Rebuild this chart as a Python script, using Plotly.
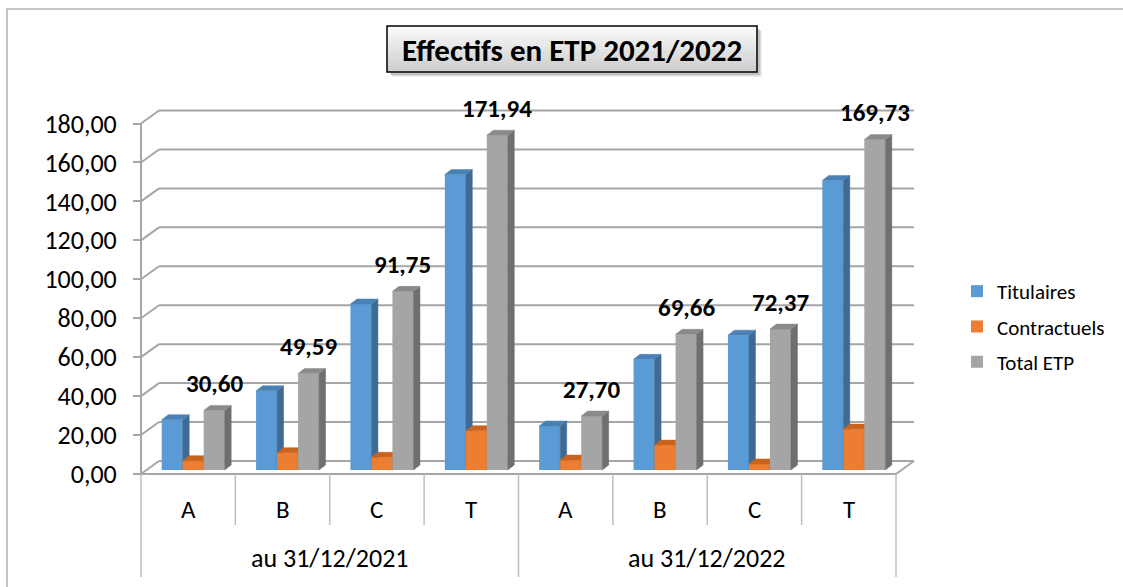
import plotly.graph_objects as go

# ---- data -------------------------------------------------------------
groups = ["au 31/12/2021", "au 31/12/2022"]
categories = ["A", "B", "C", "T"]
series_names = ["Titulaires", "Contractuels", "Total ETP"]
titulaires = [25.80, 40.69, 85.25, 151.74, 22.60, 56.86, 69.27, 148.73]
contractuels = [4.80, 8.90, 6.50, 20.20, 5.10, 12.80, 3.10, 21.00]
total_etp = [30.60, 49.59, 91.75, 171.94, 27.70, 69.66, 72.37, 169.73]
y_ticks = [0, 20, 40, 60, 80, 100, 120, 140, 160, 180]
title_text = "Effectifs en ETP 2021/2022"

# ---- styling ----------------------------------------------------------
FONT = "Carlito, Lato, sans-serif"
front_colors = ["#5B9BD5", "#ED7D31", "#A5A5A5"]
side_colors = ["#3E6A93", "#B45D21", "#6F6F6F"]
top_colors = ["#4A81B5", "#C9641F", "#8A8A8A"]
GRID = "#A6A6A6"
TABLE = "#BFBFBF"

# ---- canvas geometry (plot area covers the whole page) -----------------
W, H = 1123, 587
PX_PER_CAT = 94.375        # width of one category slot
PX_PER_UNIT = 1.947        # vertical pixels per value unit
LEFT_PX = 141              # left edge of the first category slot
BASE_PX = 470              # pixel row of value 0 for the bars


def ux(px):
    return px / PX_PER_CAT


def uy(px):
    return px / PX_PER_UNIT


def px_x(px):
    return px / W


def px_y(py):
    return 1 - py / H


x_range = [-0.5 - ux(LEFT_PX), -0.5 + ux(W - LEFT_PX)]
y_range = [-uy(H - BASE_PX), uy(BASE_PX)]

FRONT = -uy(4)        # front edge of the floor
BACK = uy(9)          # back wall offset
DEPTH_X = ux(18)      # horizontal depth shift of the walls
BAR_W = ux(21)
BAR_SHIFT = ux(5)
FACE_DX = ux(6.5)
FACE_DY = uy(5)

n_cat = len(groups) * len(categories)
centers = list(range(n_cat))
values = [titulaires, contractuels, total_etp]

fig = go.Figure()

# ---- 3D-looking columns: front face (bar) + side and top faces ----------
for k, (name, vals) in enumerate(zip(series_names, values)):
    offset = (k - 1) * BAR_W + BAR_SHIFT
    xs = [c + offset for c in centers]
    fig.add_trace(go.Bar(
        x=xs, y=vals, width=BAR_W, name=name,
        marker=dict(color=front_colors[k], line=dict(width=0)),
        legendgroup=name, zorder=2 * k, hoverinfo="skip",
    ))
    side_x, side_y, top_x, top_y = [], [], [], []
    for x, v in zip(xs, vals):
        xl, xr = x - BAR_W / 2, x + BAR_W / 2
        side_x += [xr, xr + FACE_DX, xr + FACE_DX, xr, xr, None]
        side_y += [0, FACE_DY, v + FACE_DY, v, 0, None]
        top_x += [xl, xr, xr + FACE_DX, xl + FACE_DX, xl, None]
        top_y += [v, v, v + FACE_DY, v + FACE_DY, v, None]
    for fx, fy, col in ((side_x, side_y, side_colors[k]), (top_x, top_y, top_colors[k])):
        fig.add_trace(go.Scatter(
            x=fx, y=fy, mode="lines", fill="toself", fillcolor=col,
            line=dict(width=0.5, color=col), showlegend=False,
            hoverinfo="skip", zorder=2 * k + 1,
        ))

# invisible trace that carries the value axis on the front edge
fig.add_trace(go.Scatter(x=[None], y=[None], yaxis="y2", showlegend=False,
                         hoverinfo="skip"))

shapes = []

# ---- walls, floor and gridlines ----------------------------------------
left_front = -0.5
right_front = n_cat - 0.5
for v in y_ticks:
    shapes.append(dict(type="line", x0=left_front, y0=v + FRONT,
                       x1=left_front + DEPTH_X, y1=v + BACK,
                       line=dict(color=GRID, width=2), layer="below"))
    shapes.append(dict(type="line", x0=left_front + DEPTH_X, y0=v + BACK,
                       x1=right_front + DEPTH_X, y1=v + BACK,
                       line=dict(color=GRID, width=2), layer="below"))
shapes.append(dict(type="line", x0=left_front, y0=FRONT, x1=right_front, y1=FRONT,
                   line=dict(color=GRID, width=2), layer="below"))
shapes.append(dict(type="line", x0=right_front, y0=FRONT,
                   x1=right_front + DEPTH_X, y1=BACK,
                   line=dict(color=GRID, width=2), layer="below"))
shapes.append(dict(type="line", x0=left_front, y0=y_ticks[-1] + FRONT,
                   x1=left_front, y1=FRONT,
                   line=dict(color=GRID, width=2), layer="below"))

# ---- category table under the floor -------------------------------------
cat_bottom = -uy(525 - BASE_PX)
group_bottom = -uy(577 - BASE_PX)
per_group = len(categories)
for i in range(n_cat + 1):
    edge = i - 0.5
    is_group_edge = i % per_group == 0
    shapes.append(dict(type="line", x0=edge, x1=edge, y0=FRONT,
                       y1=group_bottom if is_group_edge else cat_bottom,
                       line=dict(color=TABLE, width=1.5), layer="below"))

# ---- outer chart border ---------------------------------------------------
shapes.append(dict(type="rect", xref="paper", yref="paper",
                   x0=px_x(7), x1=px_x(W + 10), y0=px_y(H + 10), y1=px_y(9),
                   line=dict(color="#B3B3B3", width=1.5), layer="below"))

# ---- title box: soft shadow, vertical gradient, black frame -------------
bx0, bx1, by0, by1 = 387, 757, 26, 72
for off, op in ((5, 0.12), (4, 0.18), (3, 0.25)):
    shapes.append(dict(type="rect", xref="paper", yref="paper",
                       x0=px_x(bx0 + off), x1=px_x(bx1 + off),
                       y0=px_y(by1 + off), y1=px_y(by0 + off),
                       fillcolor="#7F7F7F", opacity=op, line=dict(width=0)))
n_strips = 14
for s in range(n_strips):
    t = s / (n_strips - 1)
    g = int(round(250 - t * (250 - 206)))
    sy0 = by0 + (by1 - by0) * s / n_strips
    sy1 = by0 + (by1 - by0) * (s + 1) / n_strips
    shapes.append(dict(type="rect", xref="paper", yref="paper",
                       x0=px_x(bx0), x1=px_x(bx1), y0=px_y(sy1 + 0.5), y1=px_y(sy0),
                       fillcolor=f"rgb({g},{g},{g})", line=dict(width=0)))
shapes.append(dict(type="rect", xref="paper", yref="paper",
                   x0=px_x(bx0), x1=px_x(bx1), y0=px_y(by1), y1=px_y(by0),
                   line=dict(color="#000000", width=1.5)))

annotations = []
annotations.append(dict(xref="paper", yref="paper", x=px_x((bx0 + bx1) / 2),
                        y=px_y((by0 + by1) / 2 + 1), text=f"<b>{title_text}</b>",
                        showarrow=False, xanchor="center", yanchor="middle",
                        font=dict(family=FONT, size=31, color="#000000")))

# category and group labels
for i in range(n_cat):
    annotations.append(dict(x=i, y=-uy(509 - BASE_PX), text=categories[i % per_group],
                            showarrow=False, xanchor="center", yanchor="middle",
                            font=dict(family=FONT, size=25, color="#000000")))
for g, label in enumerate(groups):
    annotations.append(dict(x=g * per_group + (per_group - 1) / 2,
                            y=-uy(558 - BASE_PX), text=label,
                            showarrow=False, xanchor="center", yanchor="middle",
                            font=dict(family=FONT, size=26, color="#000000")))

# value labels above the total columns
grey_offset = BAR_W + BAR_SHIFT
for c, v in zip(centers, total_etp):
    annotations.append(dict(x=c + grey_offset, y=v, yshift=27,
                            text="<b>" + f"{v:.2f}".replace(".", ",") + "</b>",
                            showarrow=False, xanchor="center", yanchor="middle",
                            font=dict(family=FONT, size=25, color="#000000")))

fig.update_layout(
    width=W, height=H, autosize=False,
    margin=dict(l=0, r=0, t=0, b=0, pad=0),
    paper_bgcolor="#FFFFFF", plot_bgcolor="rgba(0,0,0,0)",
    separators=", ",
    barmode="overlay",
    showlegend=True,
    legend=dict(x=px_x(957), y=px_y(271), xanchor="left", yanchor="top",
                font=dict(family=FONT, size=21, color="#000000"),
                tracegroupgap=5, bgcolor="rgba(0,0,0,0)", borderwidth=0),
    xaxis=dict(range=x_range, visible=False, fixedrange=True),
    yaxis=dict(range=y_range, visible=False, fixedrange=True),
    yaxis2=dict(range=[-uy(H - BASE_PX) - FRONT, uy(BASE_PX) - FRONT],
                overlaying="y", anchor="free", position=px_x(LEFT_PX), side="left",
                tickvals=y_ticks, tickformat=".2f", ticks="outside", ticklen=8,
                tickwidth=2, tickcolor=GRID, ticklabelstandoff=11,
                showgrid=False, zeroline=False, showline=False, fixedrange=True,
                tickfont=dict(family=FONT, size=26, color="#000000")),
    shapes=shapes,
    annotations=annotations,
)

fig.write_html("out.html")
